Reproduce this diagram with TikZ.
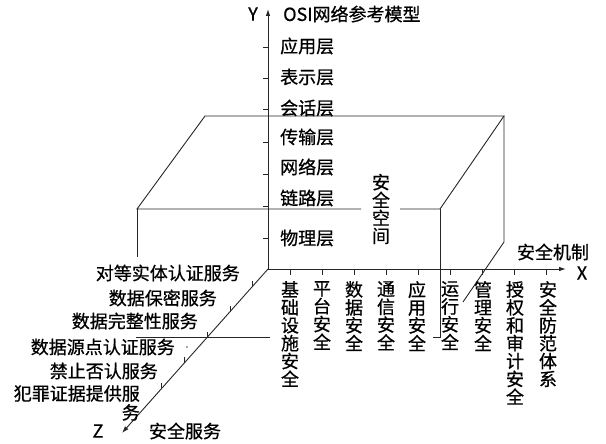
\documentclass[tikz,border=0pt]{standalone}
\usepackage{fontspec}
\setmainfont{Noto Sans CJK SC}[FakeBold=0.7]
\usetikzlibrary{arrows.meta}
\begin{document}
\begin{tikzpicture}[x=1pt,y=-1pt,
  edge/.style={draw=black!85,line width=0.9pt},
  axis/.style={edge,-{Latex[length=7pt,width=4.5pt]}},
  lbl/.style={inner sep=0pt,font=\fontsize{18}{19}\selectfont},
  vlbl/.style={inner sep=0pt,align=center,anchor=north,font=\fontsize{18}{17.9}\selectfont}]
\useasboundingbox (0,0) rectangle (606,444);
% axes
\coordinate (O) at (268,269);
\coordinate (Ytip) at (268,9);
\coordinate (Xtip) at (566,269);
\coordinate (Ztip) at (122,433);
% box
\coordinate (BTL) at (205,116);
\coordinate (BTR) at (504,116);
\coordinate (FTL) at (137,209);
\coordinate (FTR) at (440,209);
\coordinate (BBR) at (504,242);
\coordinate (BRe) at (463,302);
\coordinate (FLe) at (137,257);
\coordinate (G1) at (361,209);
\coordinate (G2) at (400,209);
\coordinate (FBR) at (440,337);
\coordinate (H) at (433,337);
\coordinate (FBL) at (136,337);
\coordinate (FB2) at (270,337);
\draw[edge] (G2) -- (FTR) -- (BTR) -- (BTL) -- (FTL) -- (G1);
\draw[edge] (FTL) -- (FLe);
\draw[edge] (BTR) -- (BBR) -- (BRe);
\draw[edge] (FTR) -- (FBR) -- (H);
\draw[edge] (FBL) -- (FB2);
\draw[axis] (O) -- (Ytip);
\draw[axis] (O) -- (Xtip);
\draw[axis] (O) -- (Ztip);
% ticks
\foreach \y in {47,78,109,142,174,206,238} \draw[edge] (263,\y) -- (268,\y);
\foreach \x in {290,322,354,386,418,450,482,514,546} \draw[edge] (\x,269) -- (\x,275);
\foreach \x in {252,230,207,184,161} \draw[edge] (\x,{269+(268-\x)*1.1241}) -- (\x,{263+(268-\x)*1.1241});
\fill[black!70] (187,347) circle (0.8pt);
% labels
\node[lbl,anchor=east] (ylab) at (258,14) {Y};
\node[lbl,anchor=west] (osi) at (283,14) {OSI网络参考模型};
\node[lbl,anchor=west] (l7) at (280,46) {应用层};
\node[lbl,anchor=west] (l6) at (280,77) {表示层};
\node[lbl,anchor=west] (l5) at (280,108) {会话层};
\node[lbl,anchor=west] (l4) at (280,137) {传输层};
\node[lbl,anchor=west] (l3) at (280,167) {网络层};
\node[lbl,anchor=west] (l2) at (280,198) {链路层};
\node[lbl,anchor=west] (l1) at (280,238) {物理层};
\node[vlbl,anchor=center] (space) at (381,209) {安\\全\\空\\间};
\node[lbl] (xmech) at (553,252) {安全机制};
\node[lbl] (xlab) at (582,273) {X};
\node[lbl] (zlab) at (98,431) {Z};
\node[lbl] (zsvc) at (185,431) {安全服务};
\node[lbl,anchor=east] (s1) at (240,273) {对等实体认证服务};
\node[lbl,anchor=east] (s2) at (217,298) {数据保密服务};
\node[lbl,anchor=east] (s3) at (198,321) {数据完整性服务};
\node[lbl,anchor=east] (s4) at (175,347) {数据源点认证服务};
\node[lbl,anchor=east] (s5) at (158,371) {禁止否认服务};
\node[lbl,anchor=north east,align=right] (s6) at (140,385) {犯罪证据提供服\\务};
\node[vlbl] (m1) at (290,281) {基\\础\\设\\施\\安\\全};
\node[vlbl] (m2) at (322,281) {平\\台\\安\\全};
\node[vlbl] (m3) at (354,281) {数\\据\\安\\全};
\node[vlbl] (m4) at (386,281) {通\\信\\安\\全};
\node[vlbl] (m5) at (417,281) {应\\用\\安\\全};
\node[vlbl] (m6) at (450,281) {运\\行\\安\\全};
\node[vlbl] (m7) at (483,281) {管\\理\\安\\全};
\node[vlbl] (m8) at (515,281) {授\\权\\和\\审\\计\\安\\全};
\node[vlbl] (m9) at (548,281) {安\\全\\防\\范\\体\\系};
\end{tikzpicture}
\end{document}
